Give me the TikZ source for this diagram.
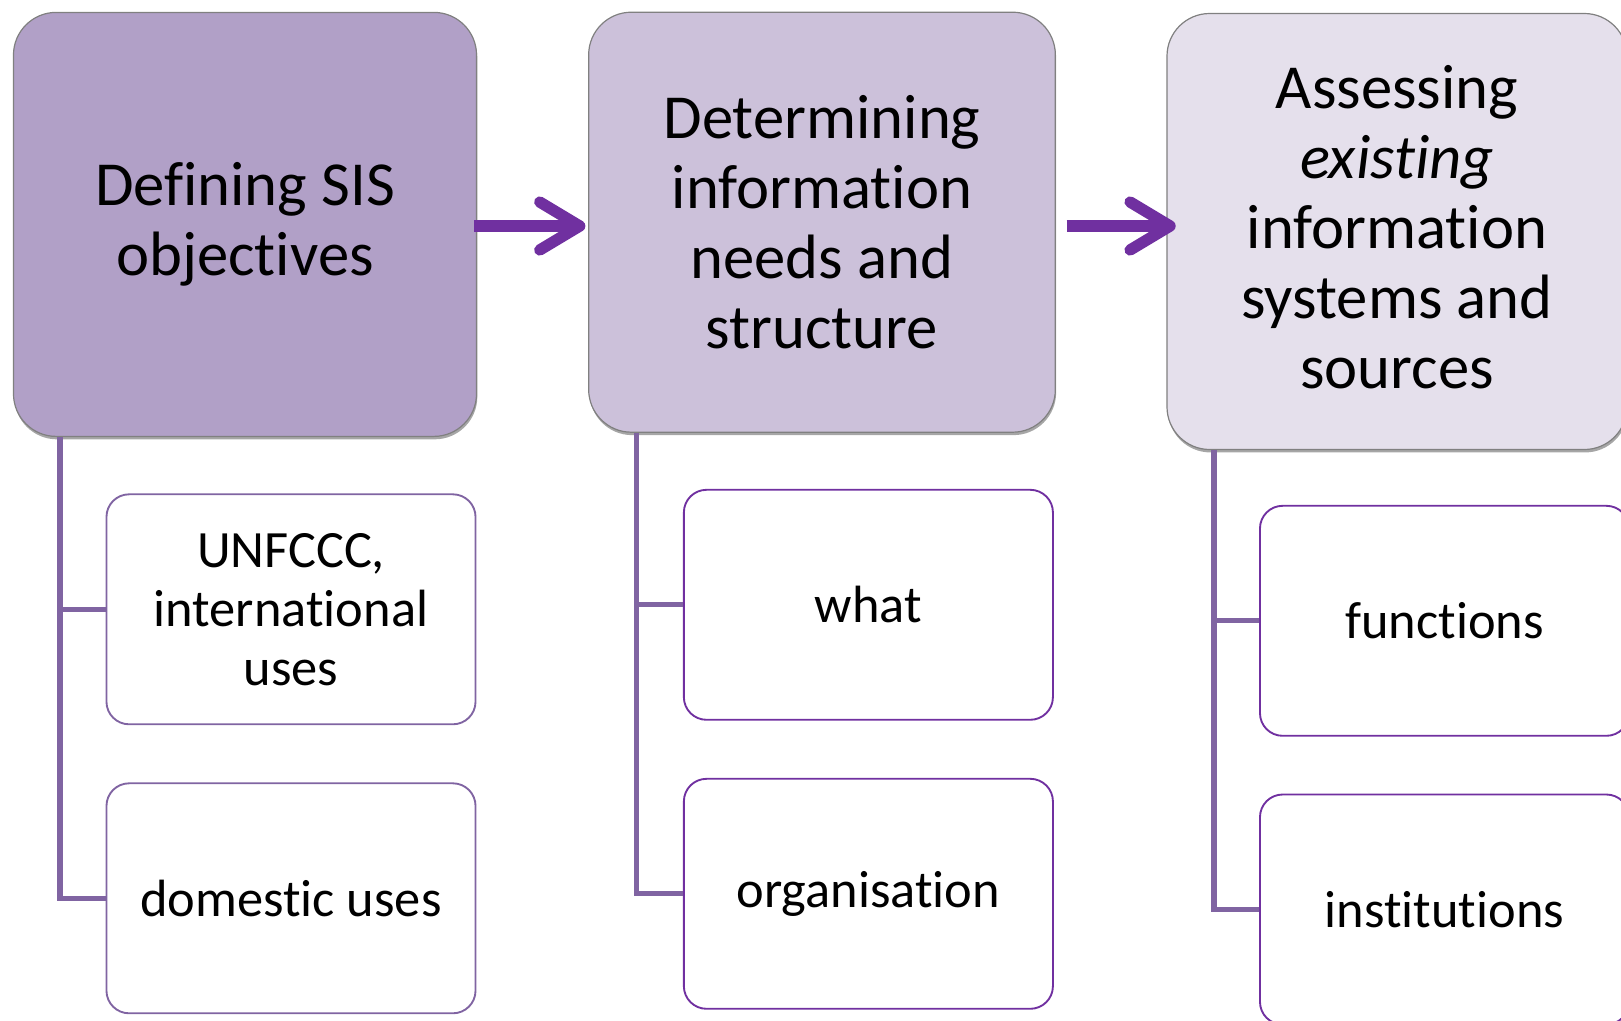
\documentclass[tikz,border=0pt]{standalone}
\usepackage{fontspec}
\setmainfont[Ligatures={NoCommon}]{Carlito}
\usetikzlibrary{arrows.meta,shadows,calc}

\begin{document}
\begin{tikzpicture}[x=0.75pt,y=0.75pt,yscale=-1,xscale=1,
  stage/.style={draw={rgb, 255:red, 128; green, 128; blue, 128 }, line width=0.9pt, rounded corners=32pt, align=center, inner sep=0pt,
    font=\fontsize{47}{52.5}\selectfont, drop shadow={shadow xshift=0.6pt, shadow yshift=-2.2pt, opacity=0.35, fill=black}},
  item/.style={line width=1.4pt, rounded corners=17pt, fill=white, minimum width=276.8pt, minimum height=172.5pt, align=center, inner sep=0pt,
    font=\fontsize{39.3}{44.2}\selectfont},
  branch/.style={draw={rgb, 255:red, 128; green, 100; blue, 162 }, line width=4pt},
  flow/.style={draw={rgb, 255:red, 112; green, 48; blue, 160 }, line width=8.5pt, -{Straight Barb[length=30pt,width=36pt,round]}}
]
\useasboundingbox (0,0) rectangle (1621,1021);

%Shape: Rounded Rect [stages]
\node [stage, fill={rgb, 255:red, 177; green, 160; blue, 199 }, minimum width=347.3pt, minimum height=318pt] (obj) at (245,224.4) {Defining SIS\\objectives};
\node [stage, fill={rgb, 255:red, 204; green, 193; blue, 218 }, minimum width=350pt, minimum height=315pt] (needs) at (822,222.2) {Determining\\information\\needs and\\structure};
\node [stage, fill={rgb, 255:red, 229; green, 224; blue, 236 }, minimum width=345pt, minimum height=327pt] (exist) at (1397,231.5) {Assessing\\\textit{existing}\\information\\systems and\\sources\\[-45pt]};

%Shape: Rounded Rect [items]
\node [item, draw={rgb, 255:red, 128; green, 100; blue, 162 }] (intl) at (291,609.3) {UNFCCC,\\international\\uses};
\node [item, draw={rgb, 255:red, 128; green, 100; blue, 162 }] (dom) at (291,898.3) {domestic uses};
\node [item, draw={rgb, 255:red, 112; green, 48; blue, 160 }] (what) at (868.4,604.8) {what};
\node [item, draw={rgb, 255:red, 112; green, 48; blue, 160 }] (org) at (868.4,893.8) {organisation};
\node [item, draw={rgb, 255:red, 112; green, 48; blue, 160 }] (func) at (1444.5,620.8) {functions};
\node [item, draw={rgb, 255:red, 112; green, 48; blue, 160 }] (inst) at (1444.5,909.5) {institutions};

%Straight Lines [branches]
\draw [branch] ($(obj.south west)+(47,0)$) |- (intl.west);
\draw [branch] ($(obj.south west)+(47,0)$) |- (dom.west);
\draw [branch] ($(needs.south west)+(48.5,0)$) |- (what.west);
\draw [branch] ($(needs.south west)+(48.5,0)$) |- (org.west);
\draw [branch] ($(exist.south west)+(47.5,0)$) |- (func.west);
\draw [branch] ($(exist.south west)+(47.5,0)$) |- (inst.west);

%Straight Lines [arrows]
\draw [flow, shorten <=-2pt, shorten >=2pt] ($(obj.east)+(0,1.6)$) -- ($(obj.east -| needs.west)+(0,1.6)$);
\draw [flow, shorten <=8pt, shorten >=-7pt] ($(needs.east)+(0,3.8)$) -- ($(needs.east -| exist.west)+(0,3.8)$);

\end{tikzpicture}
\end{document}
